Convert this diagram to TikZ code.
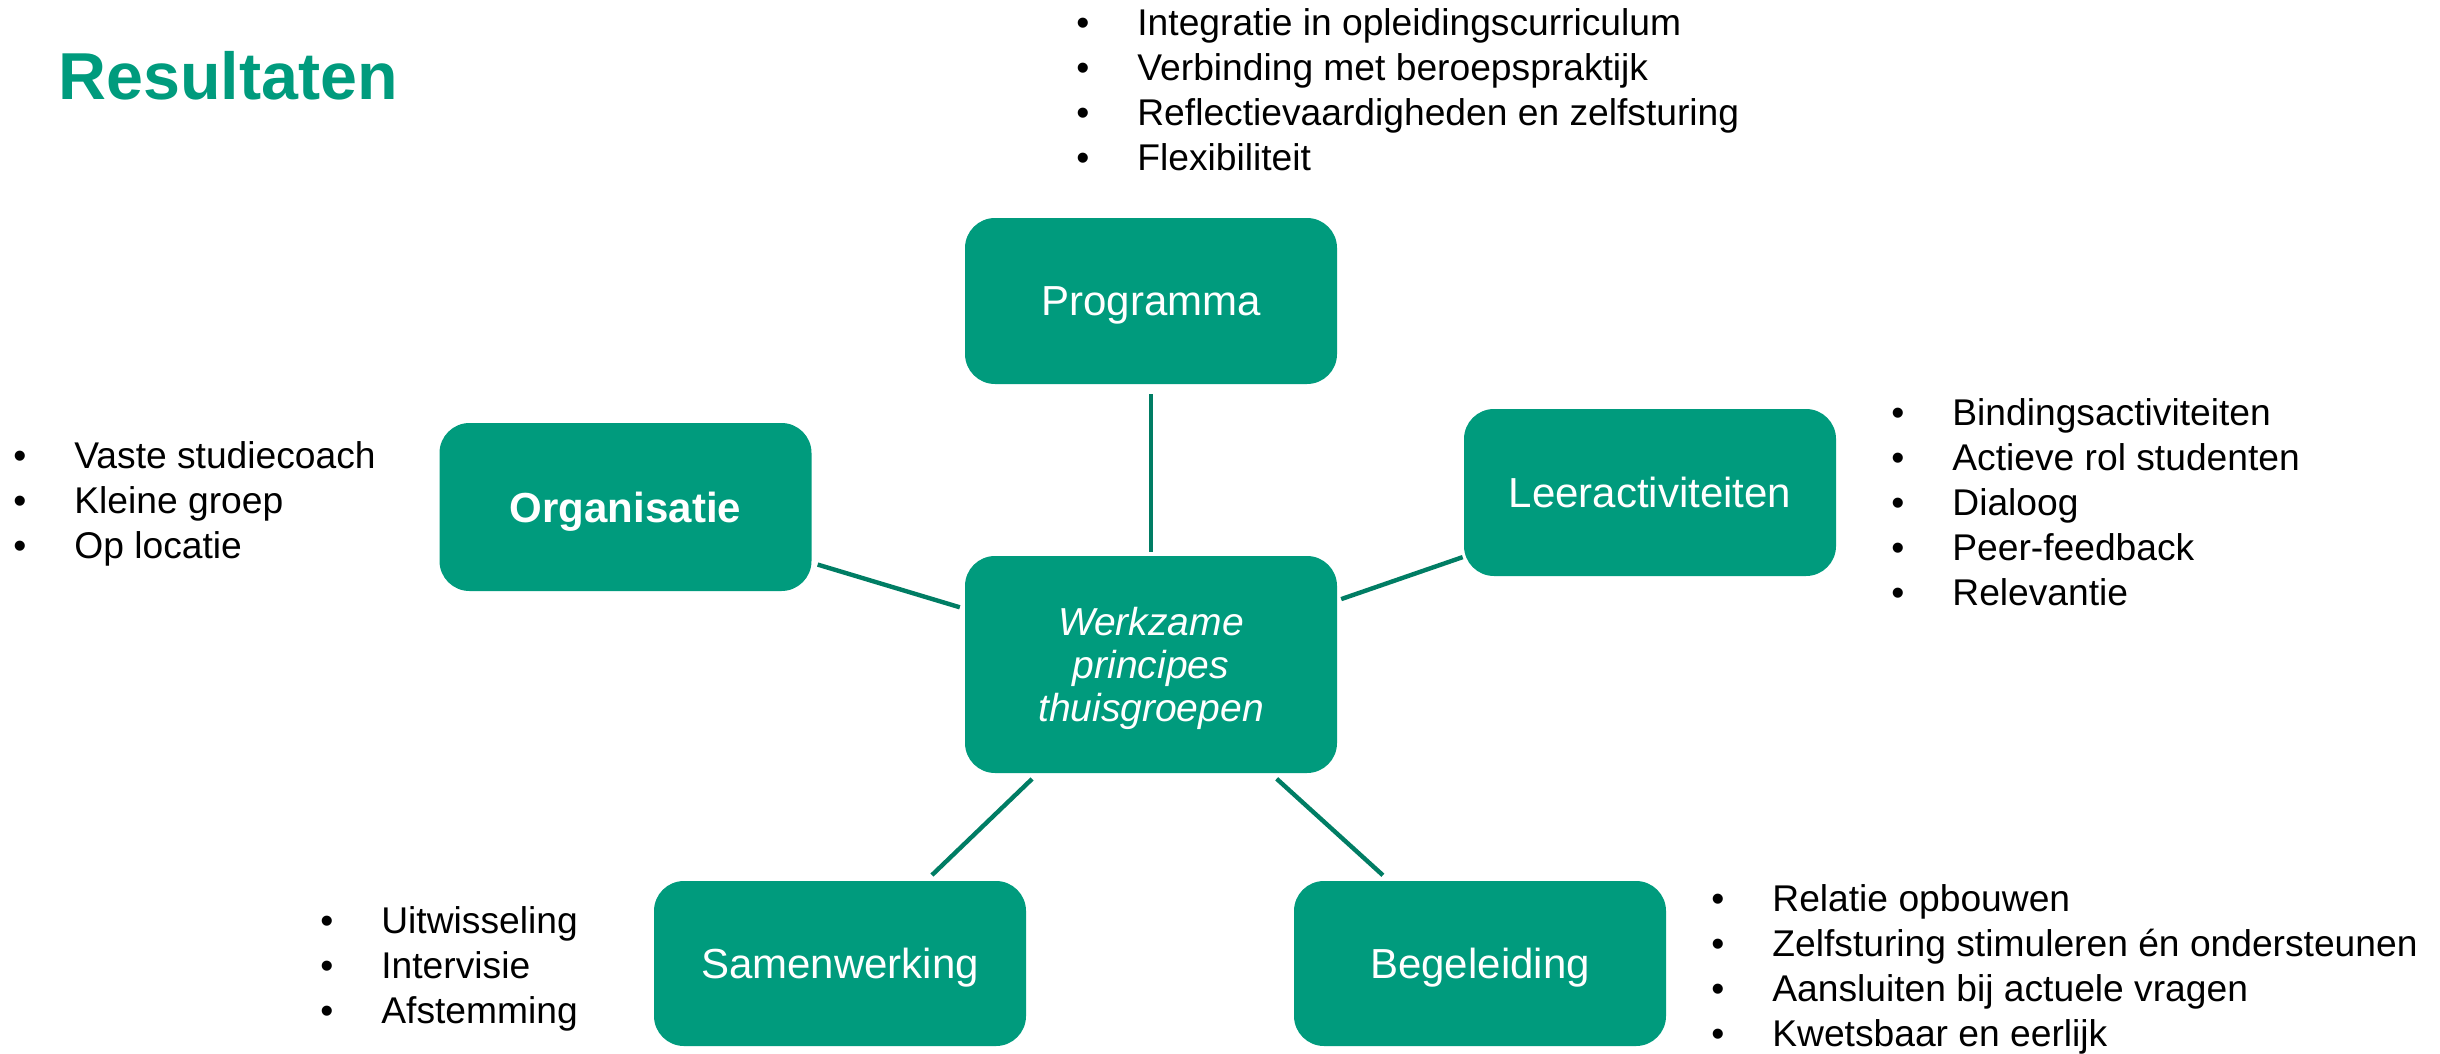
\documentclass[tikz,border=0pt]{standalone}
\usepackage{fontspec}
\setmainfont{Liberation Sans}
\definecolor{boxgreen}{RGB}{0,155,125}
\definecolor{linegreen}{RGB}{0,125,100}
\newcommand{\bitem}[1]{\makebox[30.5pt][l]{•}#1}
\tikzset{
  box/.style={fill=boxgreen, rounded corners=15pt, minimum width=186pt, minimum height=83pt,
    text=white, font=\fontsize{21}{25}\selectfont, inner sep=0pt, text depth=0pt},
  conn/.style={draw=linegreen, line width=2.2pt},
  blist/.style={anchor=base west, inner sep=0pt, font=\fontsize{18.6}{22.5}\selectfont},
  titletext/.style={anchor=base west, inner sep=0pt, text=boxgreen, font=\fontsize{33.2}{40}\selectfont\bfseries}
}
\begin{document}
\begin{tikzpicture}[x=0.5pt,y=-0.5pt]
\useasboundingbox (0,0) rectangle (2440,1054);

\node[titletext] (title) at (58,100) {Resultaten};

\node[box] (prog) at (1151,301) {Programma};
\node[box, minimum height=84pt, font=\fontsize{21}{25}\selectfont\bfseries] (org) at (625.5,507) {Organisatie};
\node[box, minimum height=83.5pt] (leer) at (1650,492.5) {Leeractiviteiten};
\node[box, minimum height=108.5pt, align=center, font=\fontsize{19.5}{21.5}\selectfont\itshape] (ctr) at (1151,664.5) {Werkzame\\principes\\thuisgroepen};
\node[box, minimum height=82.5pt] (sam) at (840,963.5) {Samenwerking};
\node[box, minimum height=82.5pt] (beg) at (1480,963.5) {Begeleiding};

\draw[conn, shorten <=5pt, shorten >=2pt] (prog) -- (ctr);
\draw[conn, shorten <=3pt, shorten >=2.5pt] (org) -- (ctr);
\draw[conn, shorten <=0.5pt, shorten >=2pt] (leer) -- (ctr);
\draw[conn, shorten <=4pt, shorten >=4pt] (sam) -- (ctr);
\draw[conn, shorten <=4pt, shorten >=4pt] (beg) -- (ctr);

\node[blist] (lprog) at (1076,36) {\begin{tabular}[t]{@{}l@{}}
\bitem{Integratie in opleidingscurriculum}\\
\bitem{Verbinding met beroepspraktijk}\\
\bitem{Reflectievaardigheden en zelfsturing}\\
\bitem{Flexibiliteit}
\end{tabular}};

\node[blist] (lorg) at (13,468) {\begin{tabular}[t]{@{}l@{}}
\bitem{Vaste studiecoach}\\
\bitem{Kleine groep}\\
\bitem{Op locatie}
\end{tabular}};

\node[blist] (lleer) at (1891,425) {\begin{tabular}[t]{@{}l@{}}
\bitem{Bindingsactiviteiten}\\
\bitem{Actieve rol studenten}\\
\bitem{Dialoog}\\
\bitem{Peer-feedback}\\
\bitem{Relevantie}
\end{tabular}};

\node[blist] (lsam) at (320,933) {\begin{tabular}[t]{@{}l@{}}
\bitem{Uitwisseling}\\
\bitem{Intervisie}\\
\bitem{Afstemming}
\end{tabular}};

\node[blist] (lbeg) at (1711,911) {\begin{tabular}[t]{@{}l@{}}
\bitem{Relatie opbouwen}\\
\bitem{Zelfsturing stimuleren én ondersteunen}\\
\bitem{Aansluiten bij actuele vragen}\\
\bitem{Kwetsbaar en eerlijk}
\end{tabular}};
\end{tikzpicture}
\end{document}
